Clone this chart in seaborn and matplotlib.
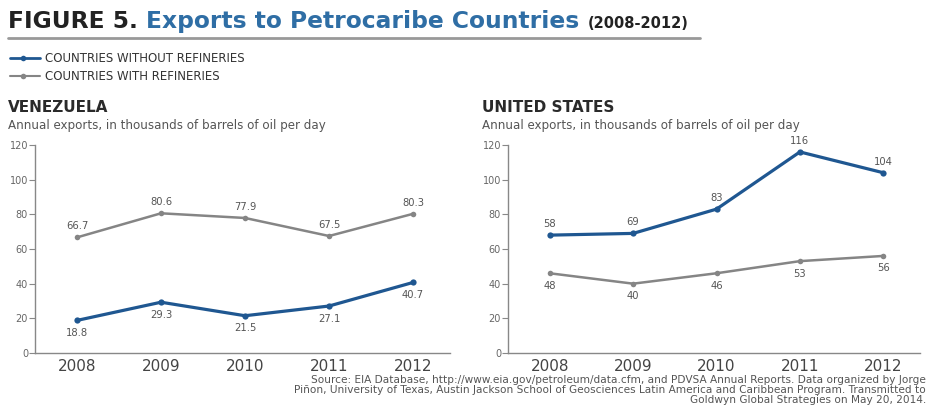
import numpy as np
import pandas as pd
import matplotlib
matplotlib.use("Agg")
import matplotlib.pyplot as plt
from matplotlib.lines import Line2D
import seaborn as sns

years = [2008, 2009, 2010, 2011, 2012]

# Venezuela
ven_without = [18.8, 29.3, 21.5, 27.1, 40.7]
ven_with = [66.7, 80.6, 77.9, 67.5, 80.3]
ven_without_lbl = ["18.8", "29.3", "21.5", "27.1", "40.7"]
ven_with_lbl = ["66.7", "80.6", "77.9", "67.5", "80.3"]

# United States (labels as printed in the source)
us_without = [68, 69, 83, 116, 104]
us_with = [46, 40, 46, 53, 56]
us_without_lbl = ["58", "69", "83", "116", "104"]
us_with_lbl = ["48", "40", "46", "53", "56"]

yticks = [0, 20, 40, 60, 80, 100, 120]

BLUE = "#1f5791"
GREY = "#858585"
TITLE_BLUE = "#2f6ea5"

sns.set_theme(style="white")
plt.rcParams["font.family"] = ["DejaVu Sans"]

fig = plt.figure(figsize=(9.28, 4.08), dpi=100)


def draw_panel(ax, without, with_, lbl_without, lbl_with, without_above):
    df = pd.DataFrame({"year": years * 2,
                       "value": without + with_,
                       "series": ["without"] * 5 + ["with"] * 5})
    sns.lineplot(data=df[df.series == "with"], x="year", y="value", ax=ax,
                 color=GREY, lw=1.8, marker="o", markersize=4,
                 markeredgewidth=0)
    sns.lineplot(data=df[df.series == "without"], x="year", y="value", ax=ax,
                 color=BLUE, lw=2.3, marker="o", markersize=4.5,
                 markeredgewidth=0)
    ax.set_xlim(2007.5, 2012.44)
    ax.set_ylim(0, 120)
    ax.set_yticks(yticks)
    ax.set_xticks(years)
    ax.set_xticklabels([str(y) for y in years], fontsize=11, color="#444444")
    ax.set_yticklabels([str(t) for t in yticks], fontsize=7, color="#666666")
    ax.tick_params(axis="y", length=4, width=0.8, color="#888888", pad=1, direction="out", left=True)
    ax.tick_params(axis="x", length=0, pad=4)
    ax.set_xlabel("")
    ax.set_ylabel("")
    for s in ["top", "right"]:
        ax.spines[s].set_visible(False)
    for s in ["left", "bottom"]:
        ax.spines[s].set_color("#888888")
        ax.spines[s].set_linewidth(1.0)
    for x, y, t in zip(years, without, lbl_without):
        off = 8 if without_above else -9
        ax.annotate(t, (x, y), xytext=(0, off), textcoords="offset points",
                    ha="center", va="center", fontsize=7.2, color="#555555")
    for x, y, t in zip(years, with_, lbl_with):
        off = -9 if without_above else 8
        ax.annotate(t, (x, y), xytext=(0, off), textcoords="offset points",
                    ha="center", va="center", fontsize=7.2, color="#555555")


ax1 = fig.add_axes([35 / 928, 1 - 353 / 408, 415 / 928, 208 / 408])
ax2 = fig.add_axes([508 / 928, 1 - 353 / 408, 412 / 928, 208 / 408])
draw_panel(ax1, ven_without, ven_with, ven_without_lbl, ven_with_lbl, False)
draw_panel(ax2, us_without, us_with, us_without_lbl, us_with_lbl, True)

# panel headings
sub = "Annual exports, in thousands of barrels of oil per day"
fig.text(8 / 928, 1 - 107 / 408, "VENEZUELA", fontsize=11, fontweight="bold",
         color="#2a2a2a", va="center")
fig.text(8 / 928, 1 - 126 / 408, sub, fontsize=8.6, color="#555555", va="center")
fig.text(482 / 928, 1 - 107 / 408, "UNITED STATES", fontsize=11, fontweight="bold",
         color="#2a2a2a", va="center")
fig.text(482 / 928, 1 - 126 / 408, sub, fontsize=8.6, color="#555555", va="center")

# main title built from pieces
fig.canvas.draw()
r = fig.canvas.get_renderer()
x = 8 / 928
y = 1 - 28 / 408
pieces = [("FIGURE 5. ", "#222222", 16.8), ("Exports to Petrocaribe Countries ", TITLE_BLUE, 16.8),
          ("(2008-2012)", "#222222", 10.5)]
for txt, col, fs in pieces:
    t = fig.text(x, y, txt, fontsize=fs, fontweight="bold", color=col, va="baseline")
    bb = t.get_window_extent(renderer=r)
    x += bb.width / fig.bbox.width
fig.add_artist(Line2D([8 / 928, 700 / 928], [1 - 38 / 408, 1 - 38 / 408],
                      transform=fig.transFigure, color="#999999", lw=2))

# legend
for yy, col, lw, label in [(58, BLUE, 2.0, "COUNTRIES WITHOUT REFINERIES"),
                           (76, GREY, 1.5, "COUNTRIES WITH REFINERIES")]:
    fy = 1 - yy / 408
    fig.add_artist(Line2D([10 / 928, 40 / 928], [fy, fy], transform=fig.transFigure,
                          color=col, lw=lw))
    fig.add_artist(Line2D([23 / 928], [fy], transform=fig.transFigure, color=col,
                          marker="o", markersize=4, markeredgewidth=0, lw=0))
    fig.text(45 / 928, fy, label, fontsize=8.5, color="#333333", va="center")

# source note
src = ("Source: EIA Database, http://www.eia.gov/petroleum/data.cfm, and PDVSA Annual Reports. Data organized by Jorge\n"
       "Piñon, University of Texas, Austin Jackson School of Geosciences Latin America and Caribbean Program. Transmitted to\n"
       "Goldwyn Global Strategies on May 20, 2014.")
fig.text(926 / 928, 1 - 375 / 408, src, fontsize=7.6, color="#555555", ha="right", va="top",
         linespacing=1.0, multialignment="right")

fig.savefig("out.png", dpi=100)
